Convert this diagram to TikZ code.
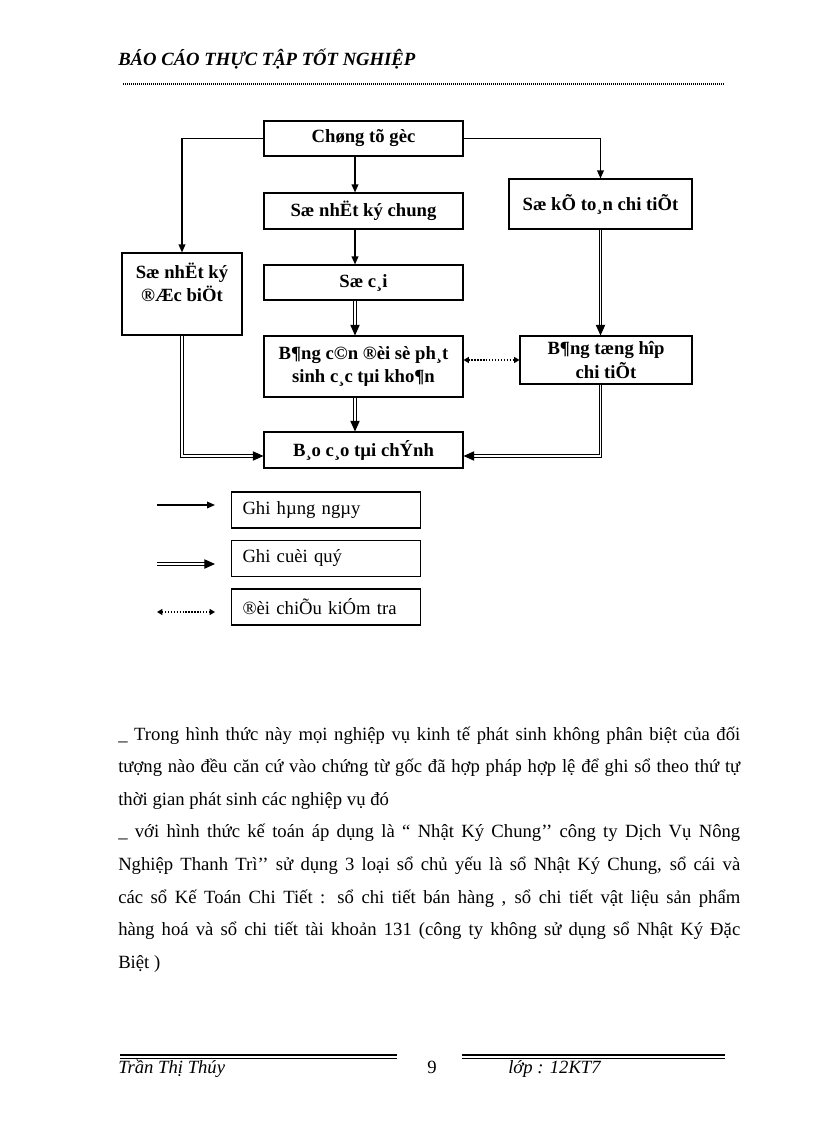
\documentclass[tikz,border=0pt]{standalone}
\usepackage{fontspec}
\setmainfont{Liberation Serif}
\usetikzlibrary{arrows.meta}

\tikzset{
  khoi/.style={draw, line width=0.8pt, inner sep=0pt, align=center,
    font=\fontsize{14}{17.5}\selectfont\bfseries},
  chuthich/.style={draw, line width=0.8pt, inner xsep=8.25pt, inner ysep=0pt,
    text width=125.25pt, minimum height=27pt, align=left,
    font=\fontsize{14}{16}\selectfont},
  hangngay/.style={line width=1pt, -{Triangle[length=6pt,width=5pt]}},
  cuoiky/.style={double, double distance=1.1pt, line width=0.75pt,
    -{Triangle[length=8pt,width=7pt]}},
  doichieu/.style={line width=1.1pt, dash pattern=on 1pt off 1.2pt,
    {Triangle[length=4pt,width=4.5pt]}-{Triangle[length=4pt,width=4.5pt]}},
}

\begin{document}
\begin{tikzpicture}[x=0.75pt,y=-0.75pt]
        \useasboundingbox (0,0) rectangle (816,1123);

        % dau trang
        \node[anchor=base west, inner sep=0pt, font=\fontsize{14}{16}\selectfont\bfseries\itshape] (tieude) at (118,66) {BÁO CÁO THỰC TẬP TỐT NGHIỆP};
        \draw[line width=1pt, dash pattern=on 0.75pt off 0.75pt] (123,84) -- (725,84);

        % so do
        \node[khoi, minimum width=149.25pt, minimum height=26.25pt] (goc) at (363.5,138.5) {Chøng tõ gèc};
        \node[khoi, minimum width=149.25pt, minimum height=27pt] (nkchung) at (363.5,211) {Sæ nhËt ký chung};
        \node[khoi, minimum width=137.25pt, minimum height=37.5pt] (ktct) at (600.5,204) {Sæ kÕ to¸n chi tiÕt};
        \node[khoi, minimum width=90pt, minimum height=61.5pt] (nkdb) at (182,294) {Sæ nhËt ký\\ ®Æc biÖt\\ \mbox{}};
        \node[khoi, minimum width=149.25pt, minimum height=26.25pt] (socai) at (363.5,282.5) {Sæ c¸i};
        \node[khoi, minimum width=149.25pt, minimum height=45.75pt] (bcdps) at (363.5,366.5) {B¶ng c©n ®èi sè ph¸t\\ sinh c¸c tµi kho¶n};
        \node[khoi, minimum width=129pt, minimum height=36pt] (bthct) at (606,360) {B¶ng tæng hîp\\ chi tiÕt};
        \node[khoi, minimum width=149.25pt, minimum height=27pt] (bctc) at (363.5,450) {B¸o c¸o tµi chÝnh};

        \coordinate (truc) at (355,0);
        \coordinate (vao) at (0,456);

        \draw[hangngay] (goc.west) -| (nkdb.north);
        \draw[hangngay] (goc.east) -| (ktct.north);
        \draw[hangngay] (goc.south -| truc) -- (nkchung.north -| truc);
        \draw[hangngay] (nkchung.south -| truc) -- (socai.north -| truc);

        \draw[cuoiky] (socai.south -| truc) -- (bcdps.north -| truc);
        \draw[cuoiky] (bcdps.south -| truc) -- (bctc.north -| truc);
        \draw[cuoiky] (ktct.south) -- (ktct.south |- bthct.north);
        \draw[cuoiky] (nkdb.south) |- (bctc.west |- vao);
        \draw[cuoiky] (ktct.south |- bthct.south) |- (bctc.east |- vao);

        \draw[doichieu] (bcdps.east |- bthct.west) -- (bthct.west);

        % chu thich
        \node[chuthich] (ghi1) at (326,510) {Ghi hµng ngµy};
        \node[chuthich] (ghi2) at (326,558.5) {Ghi cuèi quý};
        \node[chuthich] (ghi3) at (326,607) {®èi chiÕu kiÓm tra};

        \coordinate (m1) at (157,505);
        \coordinate (m2) at (157,564);
        \coordinate (m3) at (157,612);
        \draw[hangngay] (m1) -- ++(58,0);
        \draw[cuoiky] (m2) -- ++(58,0);
        \draw[doichieu] (m3) -- ++(58,0);

        % doan van
        \node[anchor=base west, inner sep=0pt, text width=466.5pt, align=justify,
          font=\fontsize{14}{24.45}\selectfont] (doan) at (118,740)
          {\_ Trong hình thức này mọi nghiệp  vụ kinh tế phát sinh không phân biệt của đối\linebreak
           tượng nào đều căn cứ vào chứng từ gốc đã hợp pháp hợp lệ  để ghi sổ theo thứ tự\linebreak
           thời gian phát sinh các nghiệp vụ đó\par
           \_ với hình thức kế toán áp dụng là “ Nhật Ký Chung’’ công ty Dịch Vụ Nông\linebreak
           Nghiệp  Thanh Trì’’ sử dụng 3 loại  sổ chủ yếu là sổ Nhật Ký Chung, sổ cái và\linebreak
           các sổ Kế Toán Chi Tiết : sổ chi tiết  bán hàng  , sổ chi tiết  vật liệu  sản phẩm\linebreak
           hàng hoá và sổ chi tiết  tài khoản 131 (công ty không sử dụng sổ Nhật Ký Đặc\linebreak
           Biệt )};

        % chan trang
        \draw[line width=1.2pt] (120,1055) -- (397,1055);
        \draw[line width=0.5pt] (120,1058) -- (397,1058);
        \draw[line width=1.2pt] (462,1055) -- (725,1055);
        \draw[line width=0.5pt] (462,1058) -- (725,1058);
        \node[anchor=base west, inner sep=0pt, font=\fontsize{14}{16}\selectfont\itshape] (ten) at (118,1073) {Trần Thị Thúy};
        \node[anchor=base west, inner sep=0pt, font=\fontsize{14}{16}\selectfont] (trang) at (427,1073) {9};
        \node[anchor=base west, inner sep=0pt, font=\fontsize{14}{16}\selectfont\itshape] (lop) at (508,1073) {lớp : 12KT7};
\end{tikzpicture}
\end{document}
